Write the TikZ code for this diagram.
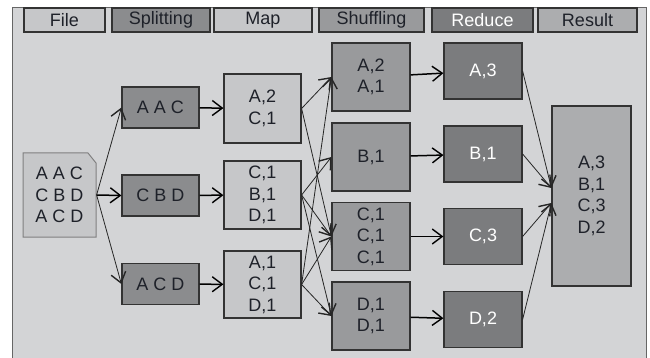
\documentclass[tikz,border=0pt]{standalone}
\usepackage{fontspec}
\setmainfont{Liberation Sans}
\usetikzlibrary{arrows.meta}
\definecolor{bgcol}{HTML}{D3D4D6}
\definecolor{lightbox}{HTML}{C6C7C9}
\definecolor{splitbox}{HTML}{8B8C8E}
\definecolor{shufbox}{HTML}{999A9C}
\definecolor{redbox}{HTML}{7B7C7E}
\definecolor{resbox}{HTML}{ACADAF}
\definecolor{txtcol}{HTML}{1E2129}

\begin{document}
\begin{tikzpicture}[x=1pt,y=-1pt,
		>={Straight Barb[length=10pt,width=15pt,line width=1.4pt]},
		box/.style={draw=black!80,line width=1.2pt,text=txtcol,align=center,
			font=\fontsize{18}{21.5}\selectfont,minimum width=77pt,inner sep=0pt},
		head/.style={box,minimum height=24pt},
		flow/.style={->,line width=1.5pt},
		cross/.style={->,line width=0.8pt,black!85}]
		\useasboundingbox (0,0) rectangle (650,358);
		\clip (0,0) rectangle (650,358);
		\draw[fill=bgcol,draw=black!60,line width=1pt] (12,8) rectangle (646,380);
		% column titles
		\node[head,fill=lightbox,minimum width=81pt] (hfile) at (64.5,20) {File};
		\node[head,fill=splitbox,minimum width=98pt] (hsplit) at (161,20) {Splitting};
		\node[head,fill=lightbox,minimum width=98pt] (hmap) at (263,20) {Map};
		\node[head,fill=shufbox,minimum width=105pt] (hshuf) at (371.5,20) {Shuffling};
		\node[head,fill=redbox,text=white,minimum width=101pt] (hred) at (482.5,20) {Reduce};
		\node[head,fill=resbox,minimum width=99pt] (hres) at (587.5,20) {Result};
		% input file
		\filldraw[fill=lightbox,draw=black!50,line width=1pt] (23,153) -- (88,153) -- (96,163) -- (96,237) -- (23,237) -- cycle;
		\node[box,draw=none,minimum width=73pt,minimum height=84pt] (file) at (59.5,195) {A A C\\C B D\\A C D};
		% splitting
		\node[box,fill=splitbox,minimum height=41pt] (s1) at (160.5,107.5) {A A C};
		\node[box,fill=splitbox,minimum height=41pt] (s2) at (160.5,195.5) {C B D};
		\node[box,fill=splitbox,minimum height=41pt] (s3) at (160.5,284) {A C D};
		% map
		\node[box,fill=lightbox,minimum height=69pt] (m1) at (262.5,108.5) {A,2\\C,1};
		\node[box,fill=lightbox,minimum height=68pt] (m2) at (262.5,195) {C,1\\B,1\\D,1};
		\node[box,fill=lightbox,minimum height=67pt] (m3) at (262.5,284.5) {A,1\\C,1\\D,1};
		% shuffling
		\node[box,fill=shufbox,minimum width=78pt,minimum height=68pt] (h1) at (371,77) {A,2\\A,1};
		\node[box,fill=shufbox,minimum width=78pt,minimum height=68pt] (h2) at (371,157) {B,1};
		\node[box,fill=shufbox,minimum width=78pt,minimum height=68pt] (h3) at (371,236.5) {C,1\\C,1\\C,1};
		\node[box,fill=shufbox,minimum width=78pt,minimum height=68pt] (h4) at (371,316) {D,1\\D,1};
		% reduce
		\node[box,fill=redbox,text=white,minimum width=78pt,minimum height=56pt] (r1) at (483,71) {A,3};
		\node[box,fill=redbox,text=white,minimum width=78pt,minimum height=56pt] (r2) at (483,154) {B,1};
		\node[box,fill=redbox,text=white,minimum width=78pt,minimum height=56pt] (r3) at (483,236.5) {C,3};
		\node[box,fill=redbox,text=white,minimum width=78pt,minimum height=56pt] (r4) at (483,319.5) {D,2};
		% result
		\node[box,fill=resbox,minimum width=79pt,minimum height=180pt] (res) at (591.5,196) {A,3\\B,1\\C,3\\D,2};
		\coordinate (resa) at ([yshift=8pt]res.west);
		\coordinate (resb) at ([yshift=-7pt]res.west);
		% arrows
		\draw[cross] (file.east) -- (s1.west);
		\draw[flow] (file.east) -- (s2.west);
		\draw[cross] (file.east) -- (s3.west);
		\draw[flow] (s1) -- (m1);
		\draw[flow] (s2) -- (m2);
		\draw[flow] (s3) -- (m3);
		\draw[cross] (m1.east) -- (h1.west);
		\draw[cross] (m1.east) -- (h3.west);
		\draw[cross] (m2.east) -- (h2.west);
		\draw[cross] (m2.east) -- (h3.west);
		\draw[cross] (m2.east) -- (h4.west);
		\draw[cross] (m3.east) -- (h1.west);
		\draw[cross] (m3.east) -- (h3.west);
		\draw[cross] (m3.east) -- (h4.west);
		\draw[flow] (h1) -- (r1);
		\draw[flow] (h2) -- (r2);
		\draw[flow] (h3) -- (r3);
		\draw[flow] (h4) -- (r4);
		\draw[cross] (r1.east) -- (resa);
		\draw[cross] (r2.east) -- (resa);
		\draw[cross] (r3.east) -- (resb);
		\draw[cross] (r4.east) -- (resb);
\end{tikzpicture}
\end{document}
